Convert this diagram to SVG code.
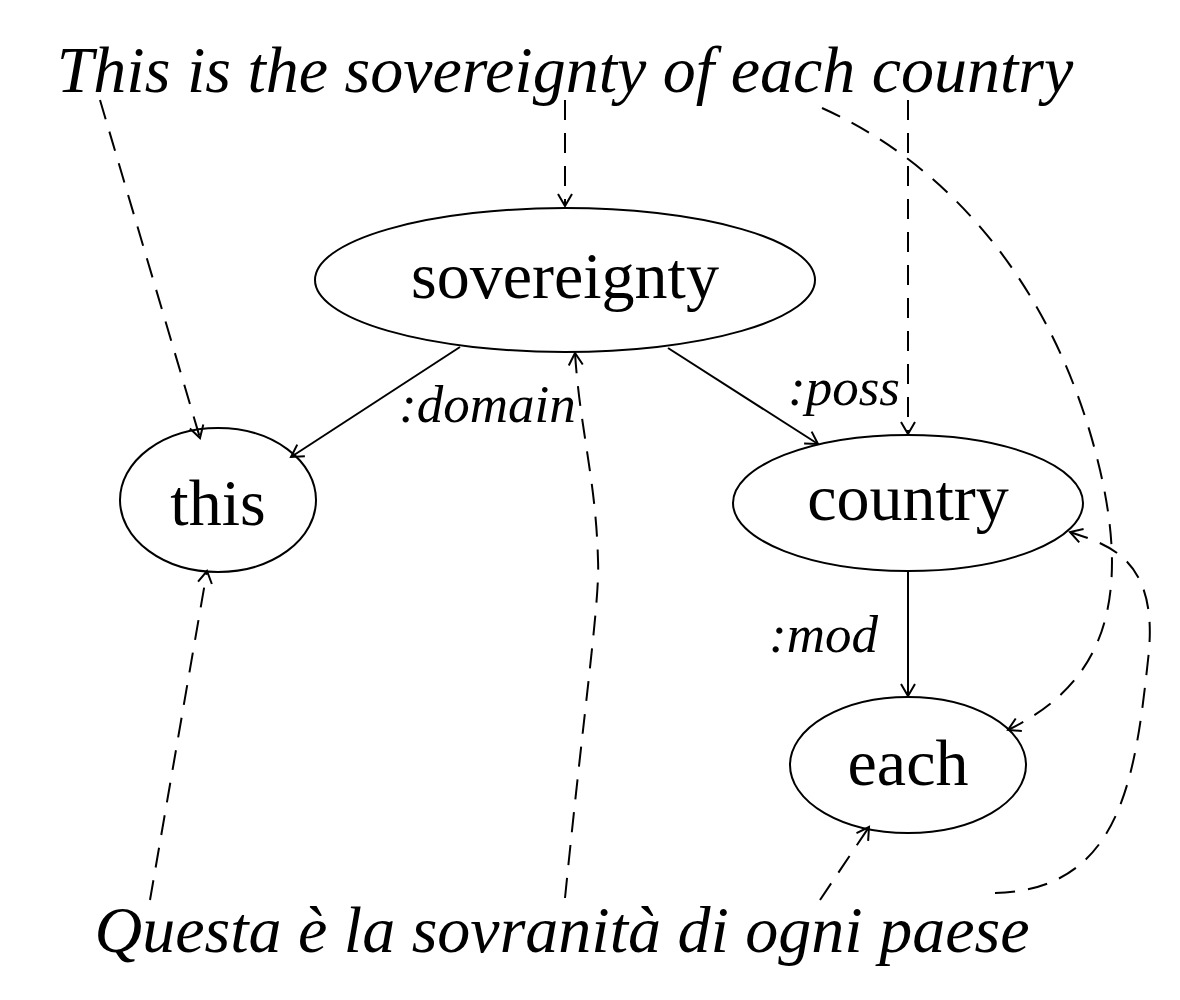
<svg xmlns="http://www.w3.org/2000/svg" width="1180" height="1000" viewBox="0 0 1180 1000">
<style>
.node{fill:#fff;stroke:#000;stroke-width:2}
.nt{font-family:"Liberation Serif",serif;font-size:66px;text-anchor:middle;fill:#000}
.sent{font-family:"Liberation Serif",serif;font-style:italic;font-size:66px;text-anchor:middle;fill:#000}
.lbl{font-family:"Liberation Serif",serif;font-style:italic;font-size:53px;fill:#000}
.e{fill:none;stroke:#000;stroke-width:2;marker-end:url(#ah)}
.d{stroke-dasharray:20 13}
</style>
<defs>
<marker id="ah" markerUnits="userSpaceOnUse" markerWidth="30" markerHeight="30" refX="0" refY="0" viewBox="-15 -15 30 30" orient="auto" overflow="visible">
<path d="M -12 -7 L 0 0 L -12 7" fill="none" stroke="#000" stroke-width="2"/>
</marker>
</defs>
<rect width="1180" height="1000" fill="#fff"/>
<text class="sent" x="565" y="92">This is the sovereignty of each country</text>
<text class="sent" x="562" y="952">Questa è la sovranità di ogni paese</text>
<g id="n-sovereignty"><ellipse class="node" cx="565" cy="280" rx="250" ry="72"/><text class="nt" x="565" y="298">sovereignty</text></g>
<g id="n-this"><ellipse class="node" cx="218" cy="500" rx="98" ry="72"/><text class="nt" x="218" y="525">this</text></g>
<g id="n-country"><ellipse class="node" cx="908" cy="503" rx="175" ry="68"/><text class="nt" x="908" y="520">country</text></g>
<g id="n-each"><ellipse class="node" cx="908" cy="765" rx="118" ry="68"/><text class="nt" x="908" y="785">each</text></g>
<g id="connectors">
<line class="e" x1="460" y1="347" x2="291" y2="457"/>
<line class="e" x1="668" y1="348" x2="818" y2="444"/>
<line class="e" x1="908" y1="571" x2="908" y2="696"/>
<text class="lbl" x="399" y="422">:domain</text>
<text class="lbl" x="788" y="405">:poss</text>
<text class="lbl" x="769" y="652">:mod</text>
<line class="e d" x1="100" y1="100" x2="200" y2="438"/>
<line class="e d" x1="565" y1="100" x2="565" y2="206"/>
<line class="e d" x1="908" y1="100" x2="908" y2="434"/>
<path class="e d" d="M 822 108 C 960 170 1060 300 1100 470 C 1135 620 1090 690 1008 730"/>
<line class="e d" x1="150" y1="900" x2="207" y2="571"/>
<path class="e d" d="M 565 898 C 585 700 600 600 598 560 C 596 480 580 430 575 353"/>
<line class="e d" x1="820" y1="900" x2="869" y2="827"/>
<path class="e d" d="M 995 893 C 1120 890 1135 780 1148 660 C 1160 560 1110 545 1070 532"/>
</g>
</svg>
